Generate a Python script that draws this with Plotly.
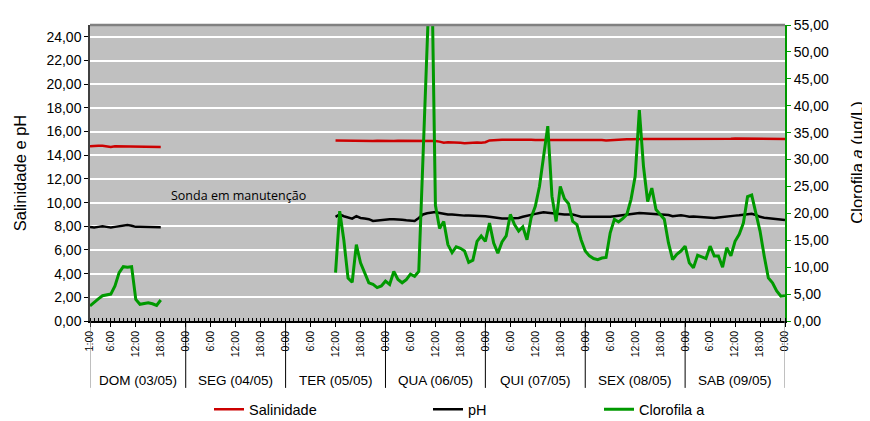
import plotly.graph_objects as go

# ---------------- data ----------------
# hours counted from 03/05 00:00 ; two measurement periods
horas_dom = list(range(1, 19))          # DOM 03/05 01:00 .. 18:00
horas_ter = list(range(60, 169))        # TER 05/05 12:00 .. DOM 10/05 00:00

sal_dom = [14.75, 14.8, 14.8, 14.8, 14.75, 14.7, 14.75, 14.75, 14.75, 14.7,
           14.7, 14.7, 14.72, 14.72, 14.7, 14.72, 14.7, 14.7]
ph_dom = [7.95, 7.9, 7.95, 8.0, 7.95, 7.9, 7.95, 8.0, 8.05, 8.1,
          8.05, 7.95, 7.95, 7.95, 7.95, 7.95, 7.92, 7.92]
clo_dom = [2.8, 3.5, 4.1, 4.7, 4.8, 5.0, 6.5, 9.0, 10.1, 10.0,
           10.1, 4.0, 3.1, 3.2, 3.4, 3.2, 2.9, 3.9]

sal_ter = [15.25, 15.24, 15.22, 15.2, 15.2, 15.22, 15.2, 15.2, 15.2, 15.2, 15.22, 15.2,
           15.22, 15.2, 15.2, 15.22, 15.22, 15.24, 15.25, 15.24, 15.22, 15.22, 15.22, 15.22,
           15.2, 15.15, 15.05, 15.1, 15.1, 15.08, 15.05, 15.02, 15.05, 15.05, 15.08, 15.05,
           15.1, 15.25, 15.28, 15.3, 15.3, 15.3, 15.28, 15.28, 15.3, 15.3, 15.32, 15.3,
           15.28, 15.28, 15.3, 15.32, 15.3, 15.3, 15.3, 15.28, 15.28, 15.3, 15.28, 15.28,
           15.28, 15.3, 15.3, 15.28, 15.28, 15.25, 15.28, 15.3, 15.3, 15.32, 15.35, 15.35,
           15.38, 15.38, 15.38, 15.38, 15.36, 15.36, 15.38, 15.38, 15.38, 15.36, 15.36, 15.36,
           15.35, 15.35, 15.35, 15.36, 15.36, 15.35, 15.36, 15.36, 15.38, 15.38, 15.38, 15.4,
           15.42, 15.42, 15.42, 15.4, 15.4, 15.42, 15.42, 15.4, 15.4, 15.4, 15.38, 15.38, 15.38]
ph_ter = [8.8, 9.0, 8.85, 8.75, 8.65, 8.85, 8.7, 8.65, 8.6, 8.45, 8.5, 8.55,
          8.55, 8.6, 8.6, 8.6, 8.55, 8.5, 8.45, 8.45, 8.7, 9.0, 9.1, 9.18,
          9.2, 9.13, 9.05, 9.0, 9.0, 8.95, 8.95, 8.9, 8.9, 8.9, 8.85, 8.85,
          8.85, 8.8, 8.75, 8.65, 8.65, 8.65, 8.65, 8.65, 8.7, 8.8, 8.9, 9.0,
          9.05, 9.12, 9.18, 9.15, 9.1, 9.05, 9.05, 9.0, 9.0, 9.0, 8.9, 8.8,
          8.8, 8.8, 8.78, 8.78, 8.78, 8.8, 8.8, 8.85, 8.9, 8.95, 9.0, 9.08,
          9.13, 9.12, 9.1, 9.08, 9.07, 9.05, 9.03, 9.0, 8.95, 8.85, 8.88, 8.93,
          8.88, 8.8, 8.82, 8.8, 8.8, 8.75, 8.72, 8.7, 8.75, 8.8, 8.85, 8.88,
          8.9, 8.93, 8.95, 9.0, 9.05, 8.95, 8.8, 8.72, 8.68, 8.63, 8.58, 8.55, 8.52]
clo_ter = [9.0, 20.4, 15.0, 8.0, 7.2, 14.2, 10.8, 9.0, 7.1, 6.8, 6.2, 6.5,
           7.4, 6.8, 9.2, 7.7, 7.1, 7.7, 8.7, 8.3, 9.2, 30.0, 50.0, 72.0,
           21.5, 17.2, 18.5, 14.2, 12.7, 13.8, 13.5, 13.0, 10.9, 11.3, 14.8, 15.8,
           14.8, 18.2, 14.5, 12.6, 14.7, 15.8, 19.8, 17.9, 16.7, 17.5, 15.1, 19.2,
           21.3, 25.0, 30.6, 36.2, 23.2, 18.5, 25.0, 22.7, 21.8, 18.5, 17.9, 15.1,
           13.0, 12.1, 11.6, 11.4, 11.7, 11.8, 16.4, 18.9, 18.4, 19.0, 19.8, 22.6,
           26.9, 39.2, 28.7, 22.2, 24.7, 20.7, 19.8, 18.9, 14.5, 11.4, 12.4, 13.0,
           13.9, 10.8, 9.9, 12.2, 11.9, 11.6, 13.9, 12.1, 12.1, 10.0, 13.6, 12.1,
           14.8, 16.1, 18.2, 23.1, 23.4, 20.1, 16.7, 12.1, 8.0, 7.1, 5.6, 4.6, 4.7]

dias = ["DOM (03/05)", "SEG (04/05)", "TER (05/05)", "QUA (06/05)",
        "QUI (07/05)", "SEX (08/05)", "SAB (09/05)"]
horas_rotulo = [0, 6, 12, 18]

left_ticks = list(range(0, 25, 2))
right_ticks = list(range(0, 56, 5))

# ---------------- figure ----------------
FONT = "Arial, Liberation Sans, sans-serif"
GREEN = "#009900"
RED = "#cc0000"

x_all = horas_dom + [19] + horas_ter
def join(a, b):
    return a + [None] + b

fig = go.Figure()
fig.add_trace(go.Scatter(x=x_all, y=join(sal_dom, sal_ter), mode="lines",
                         name="Salinidade", line=dict(color=RED, width=2.5),
                         legend="legend"))
fig.add_trace(go.Scatter(x=x_all, y=join(ph_dom, ph_ter), mode="lines",
                         name="pH", line=dict(color="black", width=2.5),
                         legend="legend2"))
fig.add_trace(go.Scatter(x=x_all, y=join(clo_dom, clo_ter), mode="lines",
                         name="Clorofila a", line=dict(color=GREEN, width=3),
                         yaxis="y2", legend="legend3"))

# x ticks: 1:00 first, then every 6 h
tickvals, ticktext = [1], ["1:00"]
for d in range(len(dias)):
    for hh in horas_rotulo:
        v = d * 24 + hh
        if v > 1:
            tickvals.append(v)
            ticktext.append(f"{hh}:00")
tickvals.append(len(dias) * 24)
ticktext.append("0:00")

xmax = len(dias) * 24
sep_y = -0.226
shapes = []
for d in range(len(dias) + 1):
    xv = 1 if d == 0 else d * 24
    col = "#808080" if d in (0, len(dias)) else "black"
    shapes.append(dict(type="line", xref="x", yref="paper", x0=xv, x1=xv,
                       y0=0, y1=sep_y, line=dict(color=col, width=1)))

def lx(px):
    return (px - 90) / 695

annotations = []
for d, nome in enumerate(dias):
    x0 = 1 if d == 0 else d * 24
    x1 = (d + 1) * 24
    annotations.append(dict(x=(x0 + x1) / 2, y=-0.2, xref="x", yref="paper",
                            text=nome, showarrow=False,
                            font=dict(family=FONT, size=13.5, color="black"),
                            xanchor="center", yanchor="middle"))
annotations.append(dict(x=36.6, y=10.6, xref="x", yref="y",
                        text="Sonda em manutenção", showarrow=False,
                        font=dict(family="Open Sans, sans-serif", size=12.5, color="black"),
                        xanchor="center", yanchor="middle"))
# right axis title (placed as annotation so it sits at the page edge like the original)
annotations.append(dict(x=lx(857), y=(321.7 - 163) / 296.7, xref="paper", yref="paper",
                        text="Clorofila <i>a</i> (µg/L)", textangle=-90, showarrow=False,
                        font=dict(family=FONT, size=16.5, color="black"),
                        xanchor="center", yanchor="middle"))

leg_common = dict(orientation="h", yanchor="middle", y=-0.298, xanchor="left",
                  font=dict(family=FONT, size=14.5, color="black"),
                  bgcolor="rgba(0,0,0,0)", borderwidth=0)

# page body has an 8 px margin, so the figure is 8 px smaller and margins shifted
fig.update_layout(
    width=862, height=413,
    margin=dict(l=82, r=85, t=17, b=100, autoexpand=False),
    paper_bgcolor="white", plot_bgcolor="#c0c0c0",
    separators=", ",
    font=dict(family=FONT, size=14, color="black"),
    showlegend=True,
    legend=dict(x=lx(209), **leg_common),
    legend2=dict(x=lx(428), **leg_common),
    legend3=dict(x=lx(599), **leg_common),
    xaxis=dict(range=[1, xmax], tickvals=tickvals, ticktext=ticktext,
               tickangle=-90, tickfont=dict(family=FONT, size=10.5),
               ticks="outside", ticklen=4, tickcolor="black",
               showgrid=False, zeroline=False, automargin=False,
               showline=True, linecolor="black", linewidth=1.5,
               minor=dict(dtick=1, tick0=0, ticks="inside", ticklen=3,
                          tickcolor="black", showgrid=False),
               mirror=False),
    yaxis=dict(range=[0, 25], tickvals=left_ticks, tickformat=".2f",
               title=dict(text="Salinidade e pH",
                          font=dict(family=FONT, size=16.5), standoff=16),
               tickfont=dict(family=FONT, size=14), automargin=False,
               ticks="outside", ticklen=4, tickcolor="black",
               showgrid=True, gridcolor="white", gridwidth=1.5,
               zeroline=False, showline=True, linecolor="#404040", linewidth=1.5),
    yaxis2=dict(range=[0, 55], tickvals=right_ticks, tickformat=".2f",
                overlaying="y", side="right", automargin=False,
                tickfont=dict(family=FONT, size=14),
                ticks="outside", ticklen=4, tickcolor=GREEN,
                showgrid=False, zeroline=False,
                showline=True, linecolor=GREEN, linewidth=2),
    shapes=shapes + [dict(type="line", xref="paper", yref="paper", x0=0, x1=1,
                          y0=1, y1=1, line=dict(color="#808080", width=2.5))],
    annotations=annotations,
)

fig.write_html("out.html")
